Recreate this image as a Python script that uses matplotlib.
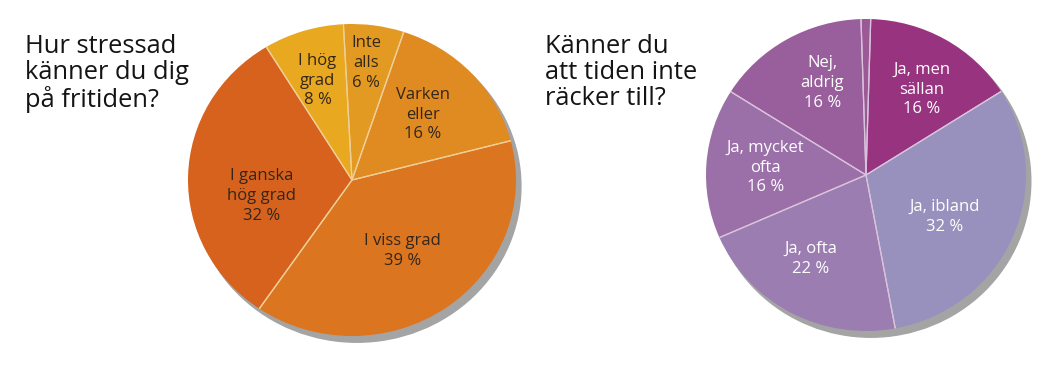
import matplotlib.pyplot as plt
import numpy as np
from matplotlib.patches import Ellipse

plt.rcParams["font.family"] = ["Open Sans", "DejaVu Sans"]

# Left pie: stress on free time
stress_labels = ["Inte\nalls", "Varken\neller", "I viss grad", "I ganska\nhög grad", "I hög\ngrad"]
stress_values = [6, 16, 39, 32, 8]
stress_colors = ["#e39a22", "#e08a22", "#dc7520", "#d6621e", "#e8a81f"]

# Right pie: not enough time
time_labels = ["", "Ja, men\nsällan", "Ja, ibland", "Ja, ofta", "Ja, mycket\nofta", "Nej,\naldrig"]
time_values = [1, 16, 32, 22, 16, 16]
time_colors = ["#9b5a96", "#97337f", "#9891bd", "#9c7db2", "#9b6fa8", "#995e9c"]

W, H = 1058, 372
fig = plt.figure(figsize=(W / 100, H / 100), dpi=100)


def pie_axes(cx, cy, rx, ry):
    return fig.add_axes([(cx - rx) / W, (H - cy - ry) / H, 2 * rx / W, 2 * ry / H])


def draw_pie(ax, values, labels, colors, start, label_r, label_shift, text_color, sep_color, fontsize):
    # grey drop shadow behind the pie
    ax.add_patch(Ellipse((0.03, -0.04), 2, 2, color="#a4a4a4", zorder=0, clip_on=False))
    wedges, _ = ax.pie(values, colors=colors, startangle=start, counterclock=False,
                       wedgeprops=dict(linewidth=0))
    ax.set_aspect("auto")
    ax.set_xlim(-1, 1)
    ax.set_ylim(-1, 1)
    for w in wedges:
        w.set_clip_on(False)
        for t in (w.theta1, w.theta2):
            a = np.deg2rad(t)
            ax.plot([0, np.cos(a)], [0, np.sin(a)], color=sep_color, lw=0.9, zorder=2,
                    solid_capstyle="butt", clip_on=False)
    for w, lab, v, r, s in zip(wedges, labels, values, label_r, label_shift):
        if not lab:
            continue
        a = np.deg2rad((w.theta1 + w.theta2) / 2 - s)
        ax.text(r * np.cos(a), r * np.sin(a), f"{lab}\n{v} %", ha="center", va="center",
                color=text_color, fontsize=fontsize, linespacing=1.3, zorder=3)


ax1 = pie_axes(352, 180, 164, 156)
draw_pie(ax1, stress_values, stress_labels, stress_colors, 93,
         [0.755, 0.60, 0.55, 0.56, 0.67], [-1, -1, 1, -12, -1],
         "#33261a", "#efcf98", 12)

ax2 = pie_axes(866, 175, 160, 156)
draw_pie(ax2, time_values, time_labels, time_colors, 91.8,
         [0, 0.65, 0.56, 0.64, 0.63, 0.65], [0, 3, 5, 5, 0, 5],
         "white", "#d9c3dc", 12)

fig.text(25 / W, 1 - 34 / H, "Hur stressad\nkänner du dig\npå fritiden?", ha="left", va="top",
         fontsize=18.4, color="#141414", linespacing=1.06)
fig.text(545 / W, 1 - 34 / H, "Känner du\natt tiden inte\nräcker till?", ha="left", va="top",
         fontsize=18.4, color="#141414", linespacing=1.06)

fig.savefig("out.png", dpi=100)
